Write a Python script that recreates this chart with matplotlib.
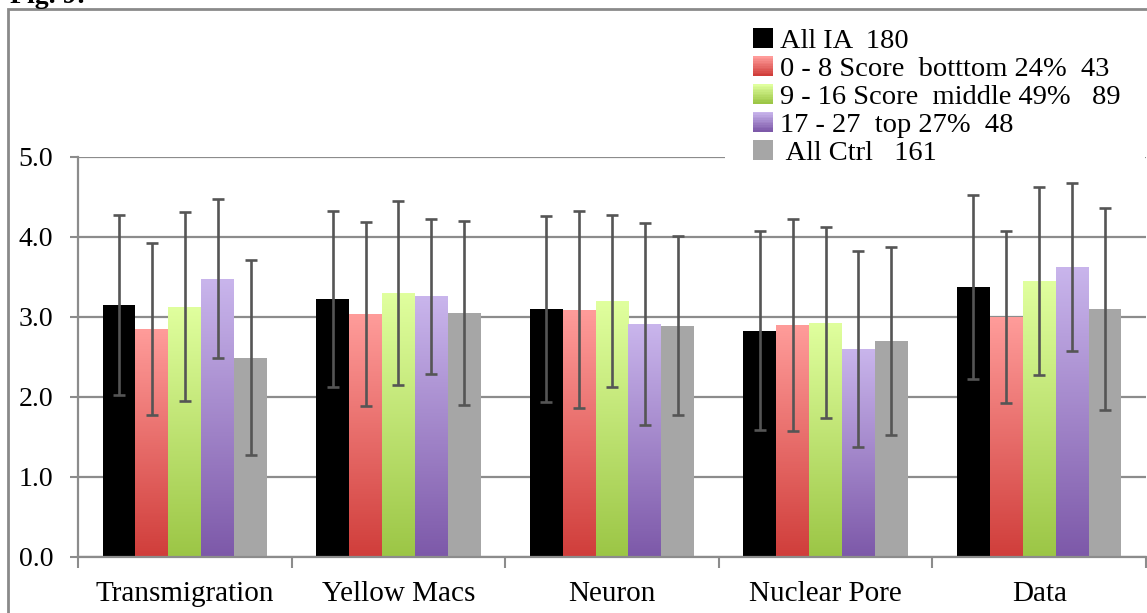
import numpy as np
import matplotlib
matplotlib.use("Agg")
import matplotlib.pyplot as plt
from matplotlib.colors import LinearSegmentedColormap, to_rgb
from matplotlib.patches import Rectangle
from matplotlib.legend_handler import HandlerBase

plt.rcParams['font.family'] = ['Liberation Serif', 'DejaVu Serif']

categories = ["Transmigration", "Yellow Macs", "Neuron", "Nuclear Pore", "Data"]
labels = ["All IA  180", "0 - 8 Score  botttom 24%  43",
          "9 - 16 Score  middle 49%   89", "17 - 27  top 27%  48", " All Ctrl   161"]

all_ia = [3.15, 3.23, 3.10, 2.83, 3.38]
low = [2.85, 3.04, 3.09, 2.90, 3.00]
mid = [3.13, 3.30, 3.20, 2.93, 3.45]
top = [3.48, 3.26, 2.91, 2.60, 3.63]
ctrl = [2.49, 3.05, 2.89, 2.70, 3.10]

all_ia_err = [1.12, 1.10, 1.16, 1.24, 1.15]
low_err = [1.07, 1.15, 1.23, 1.33, 1.08]
mid_err = [1.18, 1.15, 1.07, 1.19, 1.18]
top_err = [0.99, 0.97, 1.26, 1.22, 1.05]
ctrl_err = [1.22, 1.15, 1.12, 1.18, 1.26]

series = [all_ia, low, mid, top, ctrl]
errors = [all_ia_err, low_err, mid_err, top_err, ctrl_err]
# (top colour, bottom colour); None bottom means solid
colors = [("#000000", None), ("#ff9c9a", "#d03e3b"), ("#e0ff9e", "#9cc646"),
          ("#c9b5ec", "#7d59a9"), ("#a6a6a6", None)]


class GradHandler(HandlerBase):
    def __init__(self, c_top, c_bot):
        super().__init__()
        self.c_top = np.array(to_rgb(c_top))
        self.c_bot = np.array(to_rgb(c_bot if c_bot else c_top))

    def create_artists(self, legend, orig_handle, xdescent, ydescent, width, height,
                       fontsize, trans):
        n = 12
        arts = []
        for k in range(n):
            f = k / (n - 1)
            col = self.c_bot * (1 - f) + self.c_top * f
            arts.append(Rectangle((-xdescent, -ydescent + k * height / n), width,
                                  height / n * 1.05, facecolor=col, edgecolor="none",
                                  transform=trans))
        return arts


W, H = 1147, 613
fig = plt.figure(figsize=(W / 100, H / 100), dpi=100)

# outer frame of the chart object
fig.patches.append(Rectangle((8 / W, -0.1), 1.2, 1 - 9 / H + 0.1, transform=fig.transFigure,
                             fill=False, edgecolor="#8a8a8a", lw=2, zorder=0))
fig.text(10 / W, 1 - 3 / H, "Fig. 9:", fontsize=20, fontweight="bold", va="baseline")

ax = fig.add_axes([78 / W, 1 - 557 / H, (1146 - 78) / W, 400 / H])
ax.patch.set_alpha(0)

x = np.arange(len(categories))
bw = 0.154
for i, (vals, errs, (c1, c2)) in enumerate(zip(series, errors, colors)):
    pos = x + (i - 2) * bw
    bars = ax.bar(pos, vals, bw, color=c1, zorder=2, linewidth=0)
    if c2 is not None:
        cmap = LinearSegmentedColormap.from_list("g%d" % i, [c2, c1])
        for b in bars:
            b.set_facecolor("none")
            h = b.get_height()
            im = ax.imshow(np.linspace(0, 1, 100).reshape(-1, 1), cmap=cmap, origin="lower",
                           extent=[b.get_x(), b.get_x() + b.get_width(), 0, h],
                           aspect="auto", zorder=2)
            im.set_clip_path(b)
    ax.errorbar(pos, vals, yerr=errs, fmt="none", ecolor="#555555", elinewidth=1.9,
                capsize=4.5, capthick=1.9, zorder=3)

ax.set_xlim(-0.5, 4.5)
ax.set_ylim(0, 5)
ax.set_yticks([0, 1, 2, 3, 4, 5])
ax.set_yticklabels(["%.1f" % v for v in [0, 1, 2, 3, 4, 5]])
ax.yaxis.grid(True, color="#8c8c8c", lw=1.6, zorder=1)
ax.set_axisbelow(True)

ax.set_xticks(np.arange(-0.5, 5, 1))
ax.set_xticklabels([])
ax.set_xticks(x, minor=True)
ax.set_xticklabels(categories, minor=True)
ax.tick_params(axis="x", which="major", length=8, width=1.5, color="#8c8c8c", direction="out")
ax.tick_params(axis="x", which="minor", length=0, pad=17, labelsize=21)
ax.tick_params(axis="y", length=6, width=1.5, color="#8c8c8c", pad=12, labelsize=20)

for s in ["top", "right"]:
    ax.spines[s].set_visible(False)
for s in ["left", "bottom"]:
    ax.spines[s].set_color("#8c8c8c")
    ax.spines[s].set_linewidth(1.6)

# white area behind legend
fig.patches.append(Rectangle((725 / W, 1 - 163 / H), 420 / W, 140 / H, transform=fig.transFigure,
                             facecolor="white", edgecolor="none", zorder=5))
handles = [Rectangle((0, 0), 1, 1) for _ in colors]
hmap = {h: GradHandler(c1, c2) for h, (c1, c2) in zip(handles, colors)}
leg = fig.legend(handles, labels, loc="upper left", bbox_to_anchor=(753 / W, 1 - 28 / H),
                 frameon=False, fontsize=20.5, handlelength=0.7, handleheight=0.7,
                 handletextpad=0.25, labelspacing=0.07, borderpad=0, borderaxespad=0,
                 handler_map=hmap)
leg.set_zorder(6)

fig.savefig("out.png", dpi=100)
